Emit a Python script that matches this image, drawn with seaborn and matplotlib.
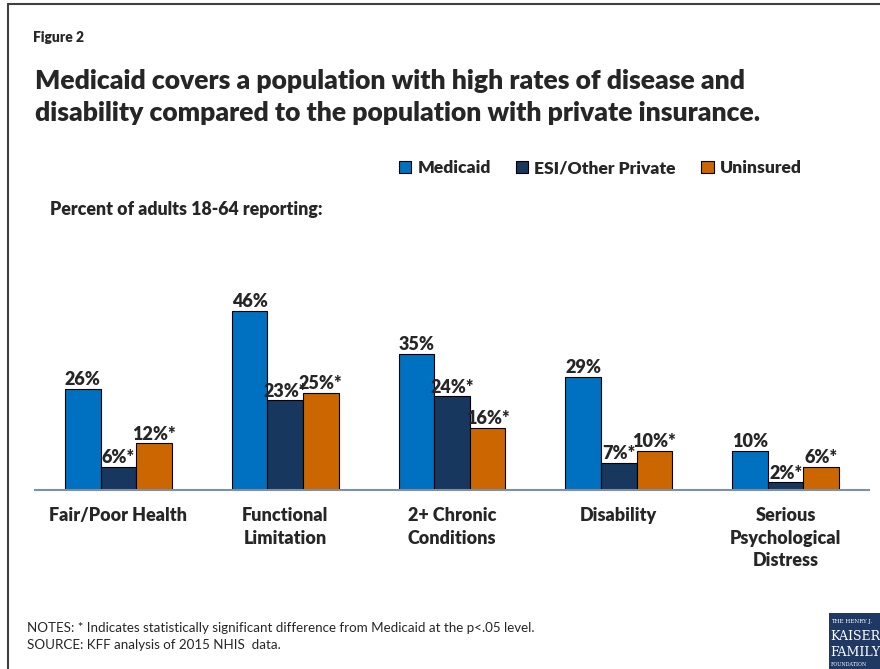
import matplotlib
matplotlib.use("Agg")
import matplotlib.pyplot as plt
from matplotlib.lines import Line2D
from matplotlib.patches import Rectangle
import seaborn as sns
import pandas as pd

categories = ["Fair/Poor Health", "Functional\nLimitation", "2+ Chronic\nConditions",
              "Disability", "Serious\nPsychological\nDistress"]
series = ["Medicaid", "ESI/Other Private", "Uninsured"]
medicaid = [26, 46, 35, 29, 10]
esi = [6, 23, 24, 7, 2]
uninsured = [12, 25, 16, 10, 6]
medicaid_labels = ["26%", "46%", "35%", "29%", "10%"]
esi_labels = ["6%*", "23%*", "24%*", "7%*", "2%*"]
uninsured_labels = ["12%*", "25%*", "16%*", "10%*", "6%*"]

colors = ["#0070C0", "#17375E", "#CC6600"]

rows = []
for s, vals in zip(series, [medicaid, esi, uninsured]):
    for c, v in zip(categories, vals):
        rows.append({"category": c, "series": s, "value": v})
df = pd.DataFrame(rows)

sns.set_style("white")
plt.rcParams["font.family"] = ["Lato", "DejaVu Sans"]
BW = "heavy"

fig = plt.figure(figsize=(8.8, 6.69), dpi=100)
ax = fig.add_axes([35/880, 1 - 490/669, 834/880, 195/669])

sns.barplot(data=df, x="category", y="value", hue="series", palette=colors,
            width=0.64, gap=0, edgecolor="black", linewidth=0.8, ax=ax,
            legend=False, errorbar=None, saturation=1)

ax.set_ylim(0, 50)
ax.set_xlim(-0.5, len(categories) - 0.5)
for side in ["top", "right", "left"]:
    ax.spines[side].set_visible(False)
ax.spines["bottom"].set_color("#7F8FA6")
ax.spines["bottom"].set_linewidth(1.5)
ax.set_yticks([])
ax.set_xlabel("")
ax.set_ylabel("")
ax.tick_params(axis="x", length=0, pad=12)
ax.set_xticks(range(len(categories)))
ax.set_xticklabels(categories, fontsize=13, fontweight=BW, linespacing=1.42, va="top")

for cont, labs in zip(ax.containers, [medicaid_labels, esi_labels, uninsured_labels]):
    ax.bar_label(cont, labels=labs, padding=0.5, fontsize=13, fontweight=BW)

# legend
handles = [Rectangle((0, 0), 1, 1, facecolor=c, edgecolor="black", linewidth=0.8) for c in colors]
fig.legend(handles, series, loc="center left", bbox_to_anchor=(399/880, 1 - 168/669),
           ncol=3, frameon=False, prop={"size": 12.6, "weight": BW},
           handlelength=0.7, handleheight=0.7, handletextpad=0.35, columnspacing=1.45,
           borderaxespad=0, borderpad=0)

fig.text(33/880, 1 - 38/669, "Figure 2", fontsize=10, fontweight=BW, va="center")
fig.text(35/880, 1 - 97/669,
         "Medicaid covers a population with high rates of disease and\n"
         "disability compared to the population with private insurance.",
         fontsize=19.1, fontweight=BW, va="center", linespacing=1.38)
fig.text(50/880, 1 - 210/669, "Percent of adults 18-64 reporting:", fontsize=12.8,
         fontweight=BW, va="center")
fig.text(27/880, 1 - 628/669,
         "NOTES: * Indicates statistically significant difference from Medicaid at the p<.05 level.",
         fontsize=9.6, va="center")
fig.text(27/880, 1 - 645/669, "SOURCE: KFF analysis of 2015 NHIS  data.", fontsize=9.6, va="center")

# frame
fig.add_artist(Line2D([8/880, 8/880], [0, 1 - 4/669], color="#404040", linewidth=1.5))
fig.add_artist(Line2D([8/880, 1], [1 - 4/669, 1 - 4/669], color="#404040", linewidth=1.5))

# logo
fig.add_artist(Rectangle((829/880, 0), 51/880, 56/669, facecolor="#1F3864",
                         edgecolor="none", transform=fig.transFigure))
fig.text(831/880, 1 - 621/669, "THE HENRY J.", fontsize=4, color="white",
         family="DejaVu Serif", va="center")
fig.text(830/880, 1 - 636/669, "KAISER", fontsize=9, color="white",
         family="DejaVu Serif", va="center")
fig.text(830/880, 1 - 652/669, "FAMILY", fontsize=9, color="white",
         family="DejaVu Serif", va="center")
fig.text(831/880, 1 - 664/669, "FOUNDATION", fontsize=3.5, color="white",
         family="DejaVu Serif", va="center")

fig.savefig("out.png", dpi=100)
